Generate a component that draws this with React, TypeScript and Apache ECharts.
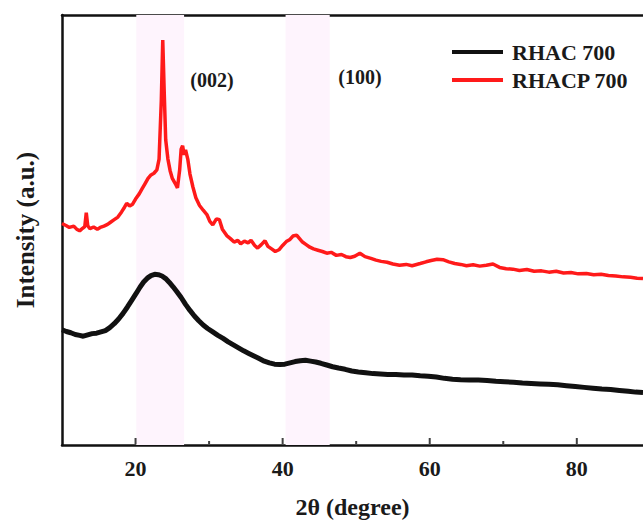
import React, { useEffect, useRef } from "react";
import * as echarts from "echarts";

const seriesNames = ["RHAC 700", "RHACP 700"];
const majorTicks = [20, 40, 60, 80];
const minorTicks = [30, 50, 70];
const bands = [
  [20.1, 26.6],
  [40.4, 46.4],
];
const peakLabels = ["(002)", "(100)"];

const rhac700: number[][] = [
  [10, 26.8], [10.6, 26.4], [11.2, 26.1], [11.8, 25.7], [12.4, 25.5], [12.9, 25.3], [13.5, 25.6],
  [14.1, 25.9], [14.7, 26.0], [15.3, 26.3], [15.9, 26.6], [16.5, 27.3], [17.1, 28.2], [17.7, 29.3],
  [18.3, 30.6], [18.9, 32.1], [19.5, 33.7], [20.1, 35.3], [20.6, 36.7], [21.1, 37.9], [21.6, 38.8],
  [22.1, 39.4], [22.6, 39.7], [23.1, 39.6], [23.6, 39.3], [24.1, 38.7], [24.6, 37.8], [25.1, 36.8],
  [25.6, 35.7], [26.2, 34.3], [26.8, 32.7], [27.4, 31.3], [28.0, 30.0], [28.6, 28.9], [29.2, 27.9],
  [29.8, 27.1], [30.5, 26.3], [31.2, 25.5], [31.9, 24.8], [32.6, 24.0], [33.3, 23.3], [34.0, 22.6],
  [34.7, 21.9], [35.4, 21.3], [36.1, 20.7], [36.8, 20.1], [37.5, 19.5], [38.2, 19.1], [38.9, 18.8],
  [39.6, 18.7], [40.3, 18.8], [41.0, 19.1], [41.7, 19.4], [42.4, 19.6], [43.1, 19.7], [43.8, 19.5],
  [44.5, 19.3], [45.2, 19.0], [46.0, 18.6], [46.8, 18.2], [47.6, 17.9], [48.5, 17.6], [49.4, 17.2],
  [50.3, 17.0], [51.3, 16.8], [52.3, 16.6], [53.3, 16.5], [54.3, 16.4], [55.4, 16.4], [56.5, 16.3],
  [57.6, 16.3], [58.7, 16.1], [59.8, 16.0], [60.9, 15.8], [62.0, 15.5], [63.1, 15.3], [64.2, 15.2],
  [65.4, 15.1], [66.6, 15.1], [67.8, 15.0], [69.0, 14.8], [70.2, 14.7], [71.4, 14.6], [72.6, 14.4],
  [73.8, 14.3], [75.0, 14.2], [76.2, 14.1], [77.4, 14.0], [78.6, 13.8], [79.8, 13.6], [81.0, 13.4],
  [82.2, 13.2], [83.4, 13.0], [84.6, 12.9], [85.8, 12.7], [87.0, 12.5], [88.0, 12.3], [89.0, 12.2],
];

const rhacp700: number[][] = [
  [10, 51.5], [10.6, 51.0], [11.0, 50.6], [11.6, 50.9], [12.0, 50.2], [12.4, 49.8], [12.8, 50.4],
  [13.1, 50.8], [13.3, 54.0], [13.5, 51.0], [13.8, 50.3], [14.3, 50.7], [14.8, 50.2], [15.2, 50.6],
  [15.7, 50.9], [16.2, 51.3], [16.6, 51.8], [17.1, 52.4], [17.6, 53.0], [18.1, 54.2], [18.5, 55.3],
  [18.8, 56.2], [19.2, 55.6], [19.6, 56.0], [20.0, 57.2], [20.5, 58.4], [20.9, 59.6], [21.3, 60.8],
  [21.7, 62.0], [22.1, 62.8], [22.5, 63.2], [22.9, 64.0], [23.2, 66.5], [23.5, 80.0], [23.7, 94.2],
  [23.9, 82.0], [24.1, 71.0], [24.4, 66.5], [24.7, 63.8], [25.0, 62.0], [25.4, 60.8], [25.7, 59.8],
  [26.0, 64.0], [26.2, 68.8], [26.4, 69.6], [26.6, 67.5], [26.8, 68.6], [27.1, 66.5], [27.4, 63.0],
  [27.8, 60.0], [28.2, 57.5], [28.7, 55.7], [29.2, 54.6], [29.7, 53.6], [30.1, 52.0], [30.5, 51.2],
  [31.0, 52.6], [31.4, 52.4], [31.8, 50.2], [32.4, 48.7], [32.9, 48.0], [33.4, 47.2], [33.9, 47.6],
  [34.3, 46.8], [34.8, 47.4], [35.3, 47.0], [35.7, 47.6], [36.2, 46.4], [36.6, 45.8], [37.1, 46.6],
  [37.6, 47.5], [38.0, 46.2], [38.5, 45.6], [39.0, 45.0], [39.5, 45.4], [40.0, 46.4], [40.5, 47.3],
  [41.0, 47.8], [41.4, 48.6], [41.9, 48.8], [42.3, 48.0], [42.7, 47.2], [43.2, 46.6], [43.7, 46.0],
  [44.2, 45.6], [44.8, 45.3], [45.4, 45.0], [46.0, 44.6], [46.6, 44.8], [47.3, 44.1], [48.0, 44.3],
  [48.6, 43.8], [49.2, 43.6], [49.8, 43.9], [50.5, 44.6], [51.2, 43.8], [52.0, 43.4], [52.7, 43.0],
  [53.4, 42.7], [54.2, 42.5], [55.0, 42.1], [55.9, 41.8], [56.8, 42.0], [57.6, 41.7], [58.7, 42.2],
  [59.5, 42.6], [60.2, 42.9], [61.0, 43.2], [61.8, 43.1], [62.6, 42.6], [63.4, 42.2], [64.2, 42.0],
  [65.0, 41.7], [65.9, 41.9], [66.8, 41.6], [67.7, 41.8], [68.6, 42.1], [69.5, 41.3], [70.4, 41.0],
  [71.3, 40.9], [72.2, 40.6], [73.2, 40.8], [74.2, 40.4], [75.2, 40.5], [76.2, 40.2], [77.2, 40.4],
  [78.2, 40.0], [79.2, 40.1], [80.2, 39.8], [81.3, 39.9], [82.3, 39.6], [83.3, 39.7], [84.3, 39.4],
  [85.3, 39.3], [86.3, 39.1], [87.3, 39.0], [88.2, 38.8], [89.0, 38.7],
];

const FONT = '"Liberation Serif", "Times New Roman", serif';
const TXT = "#1a1a1a";

export default function App() {
  const ref = useRef<HTMLDivElement>(null);
  useEffect(() => {
    if (!ref.current) return;
    const chart = echarts.init(ref.current, null, { renderer: "svg" });
    const axisBase = { type: "value", min: 10, max: 89, splitLine: { show: false } };
    const tickSeries = (values: number[], len: number) => ({
      type: "scatter",
      xAxisIndex: 0,
      silent: true,
      clip: false,
      symbol: "rect",
      symbolSize: [2, len],
      symbolOffset: [0, -len / 2 - 1],
      itemStyle: { color: "#111111" },
      z: 6,
      data: values.map((v) => [v, 0]),
    });
    chart.setOption({
      animation: false,
      backgroundColor: "#ffffff",
      grid: { left: 62, right: 0, top: 15, bottom: 76, containLabel: false },
      legend: {
        data: seriesNames,
        orient: "vertical",
        left: 452,
        top: 41,
        padding: 0,
        icon: "rect",
        itemWidth: 51,
        itemHeight: 4,
        itemGap: 6,
        textStyle: {
          fontSize: 22,
          fontWeight: "bold",
          fontFamily: FONT,
          color: TXT,
          lineHeight: 22,
          padding: [0, 0, 0, 4],
        },
      },
      xAxis: [
        {
          ...axisBase,
          interval: 10,
          position: "bottom",
          name: "2θ (degree)",
          nameLocation: "middle",
          nameGap: 50,
          nameTextStyle: { fontSize: 24, fontWeight: "bold", fontFamily: FONT, color: TXT },
          axisLine: { show: true, onZero: false, lineStyle: { color: "#111", width: 2.5 } },
          axisTick: { show: false },
          axisLabel: {
            showMinLabel: false,
            showMaxLabel: false,
            formatter: (v: number) => (majorTicks.indexOf(v) >= 0 ? String(v) : ""),
            margin: 12,
            fontSize: 22,
            fontWeight: "bold",
            fontFamily: FONT,
            color: TXT,
          },
        },
        {
          ...axisBase,
          position: "top",
          axisLine: { show: true, onZero: false, lineStyle: { color: "#111", width: 2.5 } },
          axisTick: { show: false },
          axisLabel: { show: false },
        },
      ],
      yAxis: {
        type: "value",
        min: 0,
        max: 100,
        name: "Intensity (a.u.)",
        nameLocation: "middle",
        nameGap: 24,
        nameTextStyle: { fontSize: 25, fontWeight: "bold", fontFamily: FONT, color: TXT },
        axisLine: { show: true, onZero: false, lineStyle: { color: "#111", width: 2.5 } },
        axisTick: { show: false },
        axisLabel: { show: false },
        splitLine: { show: false },
      },
      graphic: [
        {
          type: "text",
          x: 212,
          y: 80,
          style: { text: peakLabels[0], fontSize: 20, fontWeight: "bold", fontFamily: FONT, fill: TXT, align: "center", verticalAlign: "middle" },
        },
        {
          type: "text",
          x: 360,
          y: 77,
          style: { text: peakLabels[1], fontSize: 20, fontWeight: "bold", fontFamily: FONT, fill: TXT, align: "center", verticalAlign: "middle" },
        },
      ],
      series: [
        {
          name: seriesNames[0],
          type: "line",
          xAxisIndex: 0,
          data: rhac700,
          showSymbol: false,
          symbol: "none",
          color: "#111111",
          lineStyle: { color: "#111111", width: 5 },
          z: 3,
          markArea: {
            silent: true,
            itemStyle: { color: "#fef4fd" },
            data: bands.map((b) => [{ xAxis: b[0] }, { xAxis: b[1] }]),
          },
        },
        {
          name: seriesNames[1],
          type: "line",
          xAxisIndex: 0,
          data: rhacp700,
          showSymbol: false,
          symbol: "none",
          color: "#ff1a1a",
          lineStyle: { color: "#ff1a1a", width: 3.5 },
          z: 4,
        },
        tickSeries(majorTicks, 6),
        tickSeries(minorTicks, 3),
      ],
    });
    return () => chart.dispose();
  }, []);
  return <div ref={ref} style={{ position: "fixed", left: 0, top: 0, width: 643, height: 524 }} />;
}
